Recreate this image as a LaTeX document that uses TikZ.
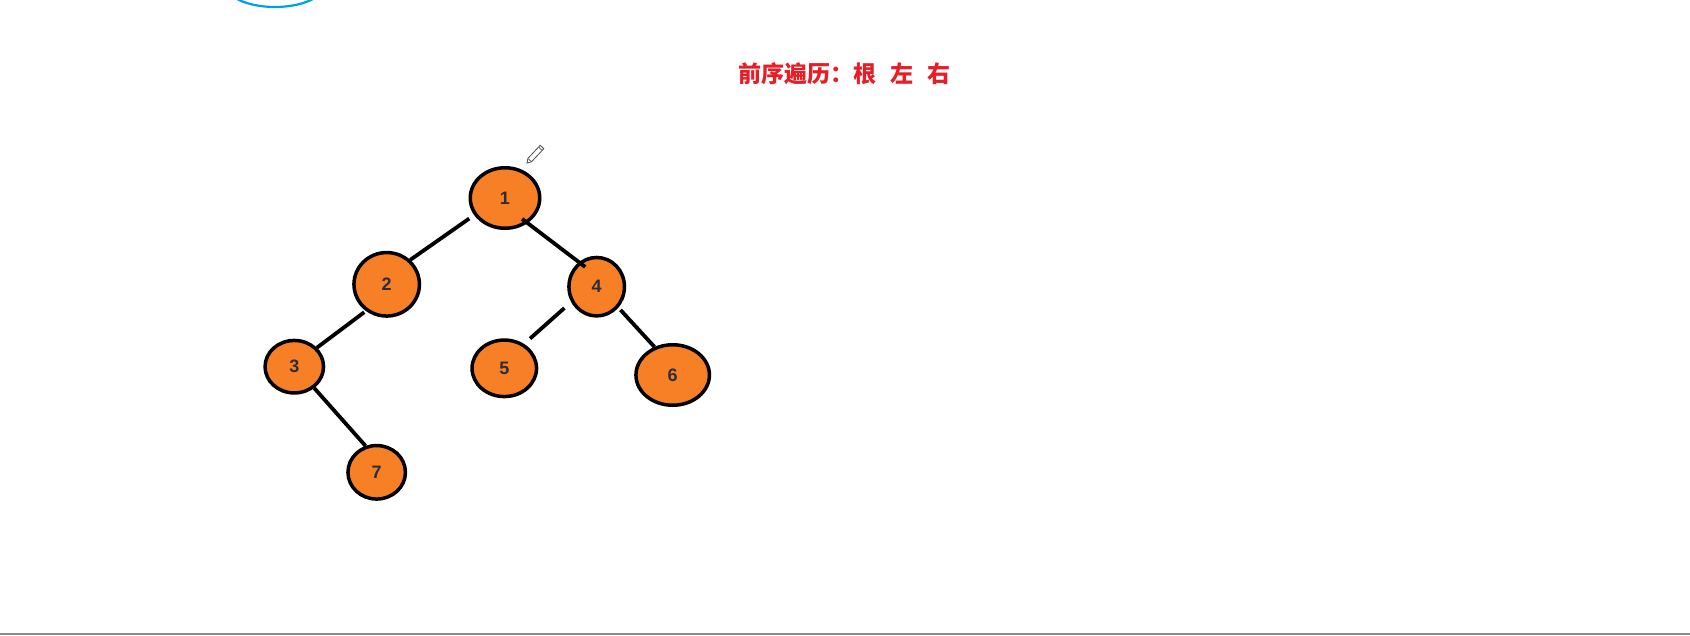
\documentclass[tikz,border=0pt]{standalone}
\usepackage{fontspec}
\usetikzlibrary{shapes.geometric}
\newfontfamily\cjk{Noto Sans CJK SC}
\newfontfamily\digitfont{Liberation Sans}
\definecolor{nodeorange}{RGB}{247,128,38}
\definecolor{titlered}{RGB}{232,30,38}
\definecolor{sketchblue}{RGB}{0,160,228}
\definecolor{digitgray}{RGB}{45,45,58}
\definecolor{framegray}{RGB}{140,140,140}
\begin{document}
\begin{tikzpicture}[x=1pt,y=-1pt,
  treenode/.style={ellipse, draw=black, line width=3.5pt, fill=nodeorange, inner sep=0pt,
    font=\digitfont\bfseries\fontsize{18}{18}\selectfont, text=digitgray},
  edge/.style={line width=3.8pt, draw=black},
  titletext/.style={font=\cjk\bfseries\fontsize{23}{26}\selectfont, text=titlered, inner sep=0pt}]
\useasboundingbox (0,0) rectangle (1690,635);
\fill[white] (0,0) rectangle (1690,635);
\begin{scope}
\clip (0,0) rectangle (1690,635);
\draw[sketchblue, line width=2.2pt] (275,-16) ellipse [x radius=50, y radius=23];
\end{scope}
% bottom frame line
\draw[framegray, line width=2pt] (0,634) -- (1690,634);

% title
\node[titletext] (title) at (844.5,74) {前序遍历：根\hspace{14.5pt}左\hspace{14.5pt}右};

% pencil cursor
\draw[black!70, line width=0.8pt, fill=white]
  (527,163) -- (531.5,161.8) -- (543.8,148.7) -- (540.2,145.3) -- (527.9,158.4) -- cycle;
\draw[black!70, line width=0.8pt] (528.5,158.8) -- (531,161.4);
\draw[black!70, line width=0.8pt] (538.8,147.2) -- (541.8,150.2);

% tree nodes
\node[treenode, minimum width=69.5pt, minimum height=60.5pt] (n1) at (505,198) {1};
\node[treenode, minimum width=65.5pt, minimum height=63.5pt] (n2) at (386.7,284.3) {2};
\node[treenode, minimum width=55.5pt, minimum height=58.5pt] (n4) at (596.7,286.7) {4};
\node[treenode, minimum width=58.5pt, minimum height=52.5pt] (n3) at (294.3,366.7) {3};
\node[treenode, minimum width=64.5pt, minimum height=56.5pt] (n5) at (504.3,368.3) {5};
\node[treenode, minimum width=73.5pt, minimum height=60.5pt] (n6) at (672.7,375) {6};
\node[treenode, minimum width=57.5pt, minimum height=53.5pt] (n7) at (376.7,472.3) {7};

% edges
\draw[edge, shorten <=6pt] (n1.209) -- (n2.46);
\draw[edge, shorten <=-7pt, shorten >=-8pt] (n1.312) -- (n4.126);
\draw[edge, shorten <=9pt, shorten >=8pt] (n4.211) -- (n5.51);
\draw[edge, shorten <=3pt] (n4.316) -- (n6.123.5);
\draw[edge, shorten <=2pt] (n2.232.6) -- (n3.40.9);
\draw[edge] (n3.313.8) -- (n7.113.2);
\end{tikzpicture}
\end{document}
